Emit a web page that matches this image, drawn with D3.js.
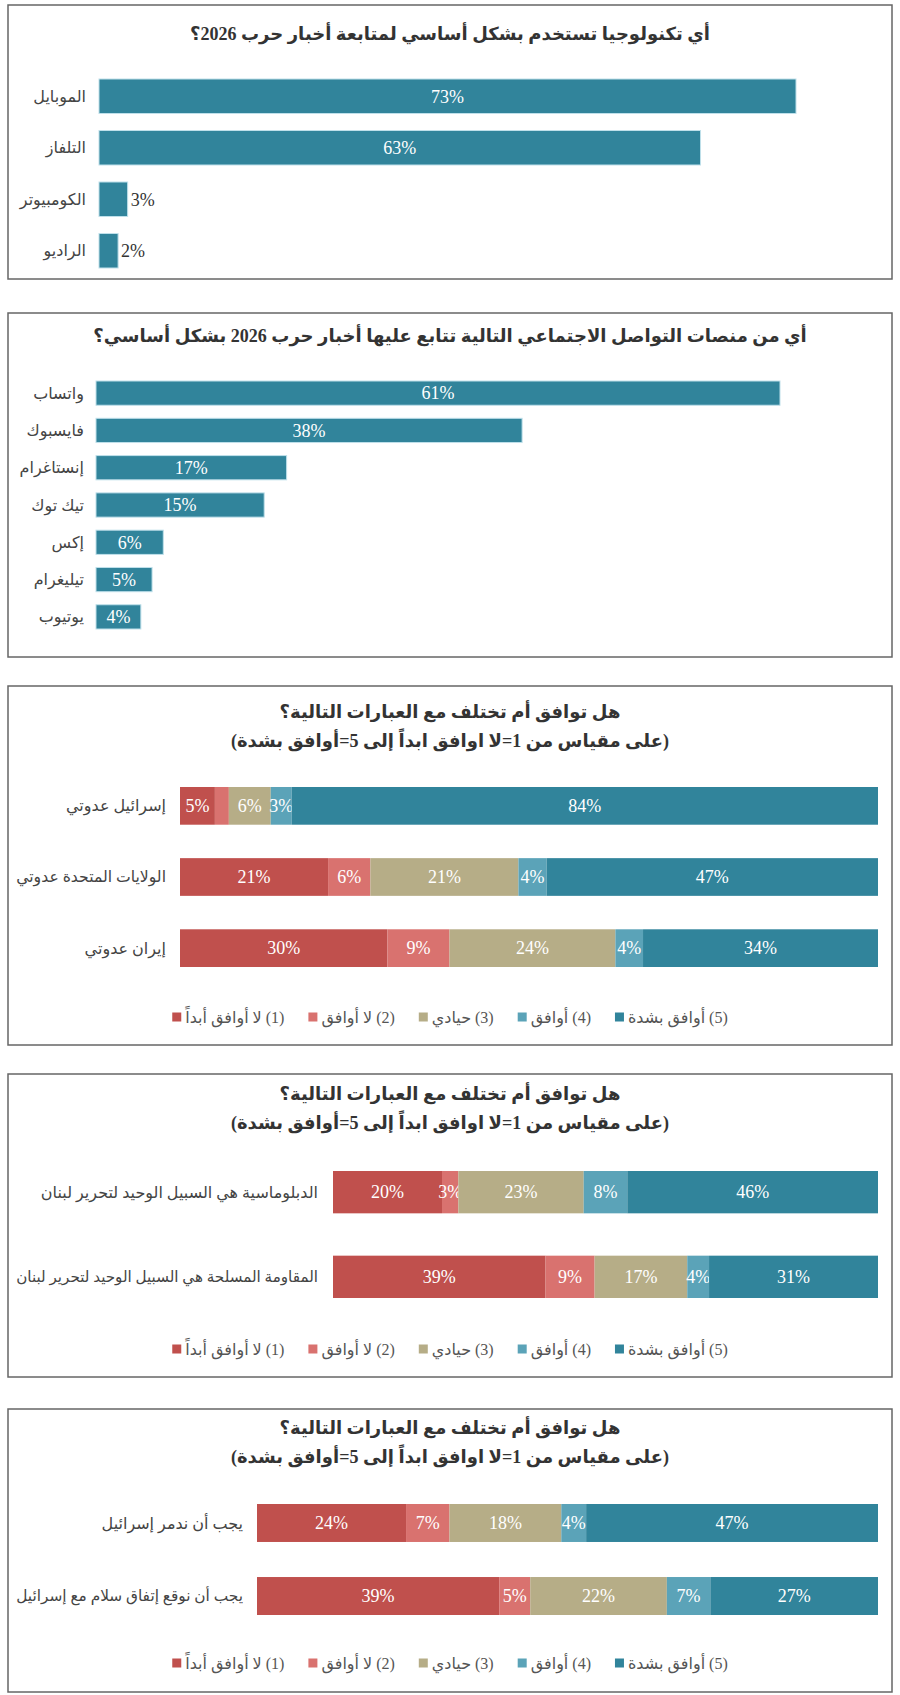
<!DOCTYPE html>
<html><head><meta charset="utf-8">
<script src="https://cdn.jsdelivr.net/npm/d3@7/dist/d3.min.js"></script>
<style>
body{margin:0;background:#fff;}
text{font-family:"Liberation Serif","DejaVu Sans",serif;}
</style></head>
<body><svg id="c" width="900" height="1695"></svg>
<script>
// panel 1
var techCats = ["الموبايل", "التلفاز", "الكومبيوتر", "الراديو"];
var techVals = [73, 63, 3, 2];
// panel 2
var socialCats = ["واتساب", "فايسبوك", "إنستاغرام", "تيك توك", "إكس", "تيليغرام", "يوتيوب"];
var socialVals = [61, 38, 17, 15, 6, 5, 4];
// stacked panels
var likertKeys = ["(1) لا أوافق أبداً", "(2) لا أوافق", "(3) حيادي", "(4) أوافق", "(5) أوافق بشدة"];
var likertColors = ["#c0504d", "#d9726f", "#b6ad87", "#5ba3b8", "#31849b"];
var enemyCats = ["إسرائيل عدوتي", "الولايات المتحدة عدوتي", "إيران عدوتي"];
var enemyVals = [[5, 2, 6, 3, 84], [21, 6, 21, 4, 47], [30, 9, 24, 4, 34]];
var lebanonCats = ["الدبلوماسية هي السبيل الوحيد لتحرير لبنان", "المقاومة المسلحة هي السبيل الوحيد لتحرير لبنان"];
var lebanonVals = [[20, 3, 23, 8, 46], [39, 9, 17, 4, 31]];
var israelCats = ["يجب أن ندمر إسرائيل", "يجب أن نوقع إتفاق سلام مع إسرائيل"];
var israelVals = [[24, 7, 18, 4, 47], [39, 5, 22, 7, 27]];
var likertTitle = ["هل توافق أم تختلف مع العبارات التالية؟", "(على مقياس من 1=لا اوافق ابداً إلى 5=أوافق بشدة)"];

var svg = d3.select("#c");
var TEAL = "#31849b";

// rtl text placed so its right edge sits at x; shrinks to maxW if given
function rtext(g, str, x, y, size, opts){
	opts = opts || {};
	var t = g.append("text").attr("direction", "rtl").attr("text-anchor", "middle")
		.attr("y", y).attr("dy", "0.35em").attr("font-size", size)
		.attr("fill", opts.fill || "#333").attr("font-weight", opts.bold ? "bold" : null)
		.text(str);
	var w = t.node().getComputedTextLength();
	if(opts.maxW && w > opts.maxW){
		t.attr("font-size", size * opts.maxW / w);
		w = t.node().getComputedTextLength();
	}
	if(opts.align == "middle") t.attr("x", x);
	else if(opts.align == "left") t.attr("x", x + w/2);
	else t.attr("x", x - w/2);
	return w;
}

function box(y0, y1){
	svg.append("rect").attr("x", 8).attr("y", y0).attr("width", 884).attr("height", y1 - y0)
		.attr("fill", "none").attr("stroke", "#666").attr("stroke-width", 1.5);
}

function simpleBars(cats, vals, o){
	box(o.top, o.bottom);
	rtext(svg, o.title, 450, o.titleY, 18, {bold: true, align: "middle", fill: "#333", maxW: 800});
	var x = d3.scaleLinear().domain([0, o.refVal]).range([o.left, o.refX]);
	var y = d3.scaleBand().domain(cats).range([o.y0, o.y1]).paddingInner(o.pad).paddingOuter(0);
	cats.forEach(function(c, i){
		var yy = y(c), h = y.bandwidth();
		svg.append("rect").attr("x", x(0)).attr("y", yy).attr("width", x(vals[i]) - x(0)).attr("height", h)
			.attr("fill", TEAL).attr("stroke", "#bfe0ea").attr("stroke-width", 1);
		rtext(svg, c, o.labelX, yy + h/2, 16, {fill: "#444", maxW: o.labelX - 16});
		var inside = x(vals[i]) - x(0) > 35;
		if(inside)
			rtext(svg, vals[i] + "%", (x(0) + x(vals[i]))/2, yy + h/2, 18, {fill: "#fff", align: "middle"});
		else
			rtext(svg, vals[i] + "%", x(vals[i]) + 3, yy + h/2, 18, {fill: "#333", align: "left"});
	});
}

function stacked(cats, vals, o){
	box(o.top, o.bottom);
	rtext(svg, likertTitle[0], 450, o.titleY, 18, {bold: true, align: "middle"});
	rtext(svg, likertTitle[1], 450, o.titleY + 29, 18, {bold: true, align: "middle"});
	var y = d3.scaleBand().domain(cats).range([o.y0, o.y1]).paddingInner(o.pad);
	cats.forEach(function(c, i){
		var row = vals[i], tot = d3.sum(row);
		var x = d3.scaleLinear().domain([0, tot]).range([o.left, 878]);
		var yy = y(c), h = y.bandwidth(), acc = 0;
		row.forEach(function(v, k){
			svg.append("rect").attr("x", x(acc)).attr("y", yy).attr("width", x(acc + v) - x(acc)).attr("height", h)
				.attr("fill", likertColors[k]);
			if(v >= 3) rtext(svg, v + "%", (x(acc) + x(acc + v))/2, yy + h/2, 18, {fill: "#fff", align: "middle"});
			acc += v;
		});
		rtext(svg, c, o.labelX, yy + h/2, 16, {fill: "#444", maxW: o.labelX - 16});
	});
	// legend, centered
	var lg = svg.append("g");
	var widths = likertKeys.map(function(k){
		var t = lg.append("text").attr("font-size", 16).text(k);
		var w = t.node().getComputedTextLength(); t.remove(); return w;
	});
	var gap = 24, sq = 9;
	var total = d3.sum(widths) + likertKeys.length * (sq + 4) + gap * (likertKeys.length - 1);
	var cx = 450 - total/2;
	likertKeys.forEach(function(k, i){
		lg.append("rect").attr("x", cx).attr("y", o.legendY - sq/2).attr("width", sq).attr("height", sq).attr("fill", likertColors[i]);
		cx += sq + 4;
		rtext(lg, k, cx, o.legendY, 16, {fill: "#555", align: "left"});
		cx += widths[i] + gap;
	});
}

simpleBars(techCats, techVals, {top: 5, bottom: 279, titleY: 34, title: "أي تكنولوجيا تستخدم بشكل أساسي لمتابعة أخبار حرب 2026؟",
	left: 99, refVal: 73, refX: 796, y0: 79, y1: 268, pad: 0.33, labelX: 86});
simpleBars(socialCats, socialVals, {top: 313, bottom: 657, titleY: 336, title: "أي من منصات التواصل الاجتماعي التالية تتابع عليها أخبار حرب 2026 بشكل أساسي؟",
	left: 96, refVal: 61, refX: 780, y0: 381, y1: 629, pad: 0.35, labelX: 84});
stacked(enemyCats, enemyVals, {top: 686, bottom: 1045, titleY: 712, left: 180, y0: 787, y1: 967, pad: 0.47, labelX: 166, legendY: 1017});
stacked(lebanonCats, lebanonVals, {top: 1074, bottom: 1377, titleY: 1094, left: 333, y0: 1171, y1: 1298, pad: 0.5, labelX: 318, legendY: 1349});
stacked(israelCats, israelVals, {top: 1409, bottom: 1692, titleY: 1428, left: 257, y0: 1504, y1: 1615, pad: 0.48, labelX: 243, legendY: 1663});
</script></body></html>
